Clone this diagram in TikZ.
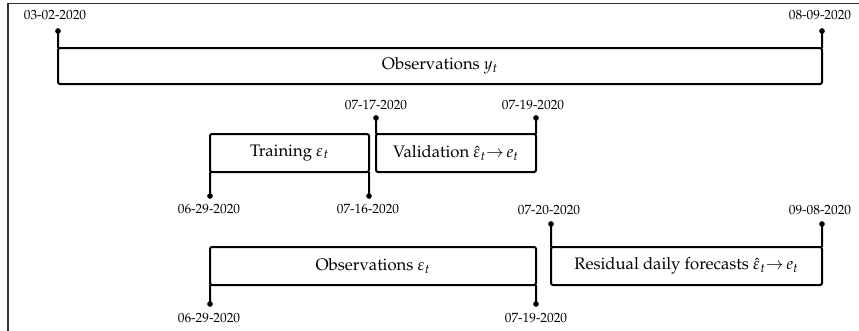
\documentclass[tikz,border=0pt]{standalone}
\usepackage[T1]{fontenc}
\usepackage{mathpazo}
\begin{document}
\begin{tikzpicture}[x=0.6pt,y=-0.6pt,
  box/.style={draw, line width=1.2pt, rounded corners=1.2pt, inner sep=0pt, outer sep=0pt, font=\normalsize, align=center},
  dot/.style={circle, fill, inner sep=0pt, minimum size=3.4pt},
  datelbl/.style={font=\footnotesize, inner sep=0pt},
  conn/.style={line width=1.2pt}]
\useasboundingbox (0,0) rectangle (859,331);
\draw[line width=0.8pt, black!80] (8,331) -- (8,3.5) -- (859,3.5);

% top row
\node[box, minimum width=458.4pt, minimum height=21.6pt] (obsy) at (440,66) {Observations $y_t$};
\node[dot] (d1) at (58,31) {};
\node[dot] (d2) at (822,31) {};
\node[datelbl] (l1) at (55,15) {03-02-2020};
\node[datelbl] (l2) at (820,15) {08-09-2020};
\draw[conn] (d1.center) -- (obsy.north west);
\draw[conn] (d2.center) -- (obsy.north east);

% middle row
\node[box, minimum width=95.4pt, minimum height=22.8pt] (train) at (289.5,153) {Training $\varepsilon_t$};
\node[box, minimum width=96pt, minimum height=22.8pt] (valid) at (456,153) {Validation $\hat{\varepsilon}_t{\to}\,e_t$};
\node[dot] (d3) at (210,196) {};
\node[dot] (d4) at (369,196) {};
\node[dot] (d5) at (376,118) {};
\node[dot] (d6) at (536,118) {};
\node[datelbl] (l3) at (209,209) {06-29-2020};
\node[datelbl] (l4) at (368,209) {07-16-2020};
\node[datelbl] (l5) at (376,105) {07-17-2020};
\node[datelbl] (l6) at (533,105) {07-19-2020};
\draw[conn] (d3.center) -- (train.south west);
\draw[conn] (d4.center) -- (train.south east);
\draw[conn] (d5.center) -- (valid.north west);
\draw[conn] (d6.center) -- (valid.north east);

% bottom row
\node[box, minimum width=195.6pt, minimum height=22.8pt] (obse) at (373,266) {Observations $\varepsilon_t$};
\node[box, minimum width=162.6pt, minimum height=22.8pt] (resid) at (686.5,266) {Residual daily forecasts $\hat{\varepsilon}_t{\to}\,e_t$};
\node[dot] (d7) at (210,304) {};
\node[dot] (d8) at (536,304) {};
\node[dot] (d9) at (551,224) {};
\node[dot] (d10) at (822,224) {};
\node[datelbl] (l7) at (209,318) {06-29-2020};
\node[datelbl] (l8) at (536,318) {07-19-2020};
\node[datelbl] (l9) at (549,210) {07-20-2020};
\node[datelbl] (l10) at (820,210) {09-08-2020};
\draw[conn] (d7.center) -- (obse.south west);
\draw[conn] (d8.center) -- (obse.south east);
\draw[conn] (d9.center) -- (resid.north west);
\draw[conn] (d10.center) -- (resid.north east);
\end{tikzpicture}
\end{document}
